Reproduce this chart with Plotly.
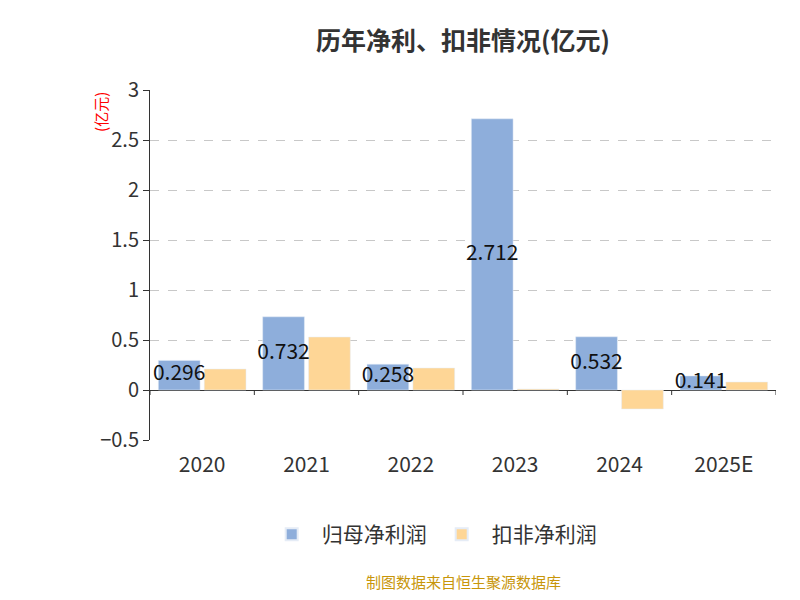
import plotly.graph_objects as go

years = ["2020", "2021", "2022", "2023", "2024", "2025E"]
net_profit = [0.296, 0.732, 0.258, 2.712, 0.532, 0.141]
deducted = [0.21, 0.53, 0.22, 0.01, -0.19, 0.08]

xs = list(range(len(years)))
blue = "#8eaedb"
orange = "#fed696"

fig = go.Figure()
fig.add_trace(go.Bar(x=[i - 0.22 for i in xs], y=net_profit, width=0.4, name="归母净利润",
                     marker=dict(color=blue)))
fig.add_trace(go.Bar(x=[i + 0.22 for i in xs], y=deducted, width=0.4, name="扣非净利润",
                     marker=dict(color=orange)))
# value labels at the middle of the blue bars
fig.add_trace(go.Scatter(x=[i - 0.22 for i in xs], y=[v / 2 for v in net_profit], mode="text",
                         text=[str(v) for v in net_profit], textfont=dict(size=21, color="#111"),
                         showlegend=False, hoverinfo="skip"))

# tick marks on the zero line at category boundaries
for b in range(len(years) + 1):
    fig.add_shape(type="line", x0=b - 0.5, x1=b - 0.5, y0=0, y1=-0.05,
                  line=dict(color="#333", width=1), layer="above")

fig.update_layout(
    width=800, height=600,
    title=dict(text="<b>历年净利、扣非情况(亿元)</b>", x=0.5, xanchor="center", xref="paper", y=0.96,
               font=dict(size=25, color="#333")),
    font=dict(family="Noto Sans CJK SC", color="#333"),
    plot_bgcolor="white", paper_bgcolor="white",
    margin=dict(l=142, r=32, t=82, b=168),
    barmode="overlay",
    legend=dict(orientation="h", x=0.45, xanchor="center", y=-0.27, yanchor="middle",
                font=dict(size=21), itemsizing="constant", itemwidth=50),
    xaxis=dict(range=[-0.5, 5.5], tickvals=xs, ticktext=years, showgrid=False,
               zeroline=False, showline=False, ticks="", tickfont=dict(size=21), ticklabelstandoff=10),
    yaxis=dict(range=[-0.5, 3], dtick=0.5, showgrid=True, gridcolor="#c8c8c8", griddash="dash",
               zeroline=True, zerolinecolor="#333", zerolinewidth=1,
               showline=True, linecolor="#333", ticks="outside", ticklen=6, tickcolor="#333",
               tickfont=dict(size=20)),
    annotations=[
        dict(text="(亿元)", x=-0.1, xref="paper", y=1.0, yref="paper", textangle=-90,
             showarrow=False, font=dict(size=15, color="red"), yanchor="top"),
        dict(text="制图数据来自恒生聚源数据库", x=0.5, xref="paper", y=-0.44, yref="paper",
             showarrow=False, font=dict(size=15, color="#c8960a")),
    ],
)
fig.write_html("out.html")
